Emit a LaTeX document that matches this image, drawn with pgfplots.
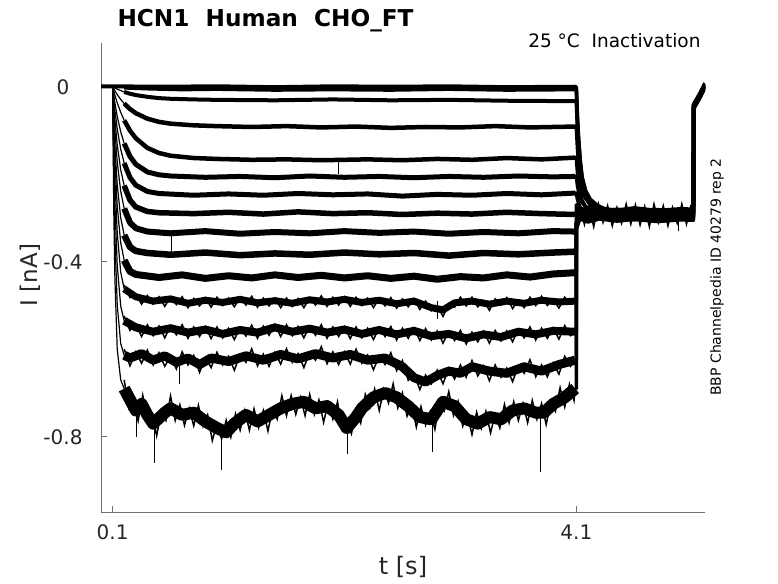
\documentclass[border=0pt]{standalone}
\usepackage{pgfplots}
\pgfplotsset{compat=1.18}
\usepackage{fontspec}
\setmainfont{DejaVu Sans}
\definecolor{axgray}{HTML}{707070}
\definecolor{txt}{HTML}{262626}
\pgfplotsset{
  dec/.style={black, line width=1.2pt, line join=round},
  pl/.style={black, line width=#1, line join=round, line cap=butt},
  tl/.style={black, line width=3.6pt, line join=round},
  zz/.style={black, line width=1.5pt, line join=miter},
  sp/.style={black, line width=1pt},
}
\begin{document}
\begin{tikzpicture}[x=1pt,y=1pt]
\path[use as bounding box] (0,0) rectangle (778,583);
\begin{axis}[
  at={(101pt,71pt)}, anchor=south west, scale only axis,
  width=604pt, height=469pt,
  xmin=0, xmax=5.21, ymin=-0.972, ymax=0.1,
  axis x line*=bottom, axis y line*=left,
  axis line style={axgray, line width=0.8pt},
  xtick={0.1,4.1}, xticklabels={0.1,4.1},
  ytick={-0.8,-0.4,0}, yticklabels={-0.8,-0.4,0},
  tick align=inside, major tick length=6pt,
  tick style={axgray, line width=0.8pt},
  ticklabel style={font=\fontsize{20}{24}\selectfont, text=txt},
  yticklabel style={anchor=center, xshift=-38pt},
  xticklabel style={yshift=-9pt},
  /pgf/number format/assume math mode=true,
]
% ---------- T1 (0)
\addplot[pl=4pt] coordinates {(0,0.001) (0.1,0.001) (0.5,0) (1,0.001) (1.5,-0.001) (2,0.001) (2.5,0) (3,0.001) (3.5,-0.001) (4.09,0)};
\addplot[tl] coordinates {(4.09,0) (4.1,0) (4.11,-0.0725) (4.12,-0.1218) (4.135,-0.174) (4.15,-0.2088) (4.18,-0.2407) (4.22,-0.261) (4.28,-0.2755) (4.35,-0.2842) (4.45,-0.29) (4.6,-0.287) (4.8,-0.292) (5.0,-0.288) (5.11,-0.29) (5.112,-0.045) (5.16,-0.022) (5.21,0.004)};
% ---------- T2
\addplot[dec] coordinates {(0.1,0) (0.2,-0.002)};
\addplot[pl=4pt] coordinates {(0.2,-0.002) (0.4,-0.004) (0.7,-0.006) (1,-0.005) (1.5,-0.007) (2,-0.006) (2.5,-0.007) (3,-0.005) (3.5,-0.007) (4.09,-0.006)};
\addplot[tl] coordinates {(4.09,-0.006) (4.1,-0.006) (4.11,-0.0758) (4.12,-0.1232) (4.135,-0.1734) (4.15,-0.2069) (4.18,-0.2376) (4.22,-0.2571) (4.28,-0.2711) (4.35,-0.2794) (4.45,-0.285) (4.6,-0.281) (4.8,-0.286) (5.0,-0.283) (5.11,-0.285) (5.112,-0.04) (5.16,-0.018) (5.21,0.008)};
% ---------- T3
\addplot[dec] coordinates {(0.1,0) (0.11,-0.0015) (0.12,-0.0029) (0.14,-0.0054) (0.17,-0.0088) (0.2,-0.0118)};
\addplot[pl=4pt] coordinates {(0.2,-0.0118) (0.25,-0.016) (0.3,-0.019) (0.4,-0.023) (0.5,-0.026) (0.6,-0.0275) (0.8,-0.029) (1.0,-0.03) (1.5,-0.031) (2,-0.029) (2.5,-0.031) (3,-0.03) (3.5,-0.032) (4.09,-0.033)};
\addplot[tl] coordinates {(4.09,-0.033) (4.1,-0.033) (4.11,-0.0985) (4.12,-0.143) (4.135,-0.1902) (4.15,-0.2216) (4.18,-0.2505) (4.22,-0.2688) (4.28,-0.2819) (4.35,-0.2898) (4.45,-0.295) (4.6,-0.298) (4.8,-0.293) (5.0,-0.297) (5.11,-0.295) (5.112,-0.05) (5.16,-0.027) (5.21,0.0)};
% ---------- T4
\addplot[dec] coordinates {(0.1,0) (0.11,-0.0049) (0.12,-0.0095) (0.14,-0.0179) (0.17,-0.029) (0.2,-0.0383)};
\addplot[pl=4.5pt] coordinates {(0.2,-0.0383) (0.25,-0.0509) (0.3,-0.0604) (0.4,-0.073) (0.5,-0.0803) (0.6,-0.0844) (0.8,-0.0882) (1.0,-0.09) (1.3,-0.092) (1.6,-0.09) (1.9,-0.093) (2.2,-0.091) (2.5,-0.094) (2.8,-0.092) (3.1,-0.093) (3.4,-0.09) (3.7,-0.093) (4.09,-0.091)};
\addplot[tl] coordinates {(4.09,-0.091) (4.1,-0.091) (4.11,-0.1408) (4.12,-0.1746) (4.135,-0.2104) (4.15,-0.2343) (4.18,-0.2552) (4.22,-0.2701) (4.28,-0.28) (4.35,-0.286) (4.45,-0.29) (4.6,-0.293) (4.8,-0.288) (5.0,-0.291) (5.11,-0.289) (5.112,-0.043) (5.16,-0.024) (5.21,0.002)};
% ---------- T5
\addplot[dec] coordinates {(0.1,0) (0.11,-0.01) (0.12,-0.0195) (0.14,-0.0365) (0.17,-0.0584) (0.2,-0.0767)};
\addplot[pl=4.5pt] coordinates {(0.2,-0.0767) (0.25,-0.1003) (0.3,-0.1176) (0.4,-0.1398) (0.5,-0.1515) (0.6,-0.1577) (0.8,-0.1629) (1.0,-0.165) (1.3,-0.167) (1.6,-0.166) (1.9,-0.168) (2.3,-0.166) (2.6,-0.168) (2.9,-0.165) (3.2,-0.167) (3.5,-0.163) (3.8,-0.166) (4.09,-0.162)};
\addplot[tl] coordinates {(4.09,-0.162) (4.1,-0.162) (4.11,-0.196) (4.12,-0.2191) (4.135,-0.2436) (4.15,-0.2599) (4.18,-0.2749) (4.22,-0.2844) (4.28,-0.2912) (4.35,-0.2953) (4.45,-0.298) (4.6,-0.301) (4.8,-0.296) (5.0,-0.3) (5.11,-0.297) (5.112,-0.048) (5.16,-0.025) (5.21,0.003)};
% ---------- T6
\addplot[dec] coordinates {(0.1,0) (0.11,-0.0195) (0.12,-0.0371) (0.14,-0.0677) (0.17,-0.1031) (0.2,-0.1296)};
\addplot[pl=5pt] coordinates {(0.2,-0.1296) (0.25,-0.1593) (0.3,-0.1773) (0.4,-0.1948) (0.5,-0.2013) (0.6,-0.204) (0.9,-0.207) (1.2,-0.205) (1.5,-0.208) (1.8,-0.204) (2.1,-0.207) (2.4,-0.205) (2.7,-0.208) (3.0,-0.205) (3.3,-0.207) (3.6,-0.204) (3.9,-0.206) (4.09,-0.205)};
\addplot[tl] coordinates {(4.09,-0.205) (4.1,-0.205) (4.11,-0.2258) (4.12,-0.2399) (4.135,-0.2548) (4.15,-0.2648) (4.18,-0.2739) (4.22,-0.2797) (4.28,-0.2839) (4.35,-0.2863) (4.45,-0.288) (4.6,-0.284) (4.8,-0.289) (5.0,-0.285) (5.11,-0.287) (5.112,-0.042) (5.16,-0.02) (5.21,0.006)};
% ---------- T7
\addplot[dec] coordinates {(0.1,0) (0.11,-0.0289) (0.12,-0.0541) (0.14,-0.0963) (0.17,-0.1428) (0.2,-0.1747)};
\addplot[pl=5pt] coordinates {(0.2,-0.1747) (0.25,-0.2075) (0.3,-0.2249) (0.4,-0.2394) (0.5,-0.244) (0.8,-0.248) (1.1,-0.245) (1.4,-0.248) (1.7,-0.244) (2.0,-0.247) (2.3,-0.245) (2.6,-0.25) (2.9,-0.246) (3.2,-0.248) (3.5,-0.244) (3.8,-0.247) (4.09,-0.243)};
\addplot[tl] coordinates {(4.09,-0.243) (4.1,-0.243) (4.11,-0.2573) (4.12,-0.2669) (4.135,-0.2772) (4.15,-0.284) (4.18,-0.2903) (4.22,-0.2943) (4.28,-0.2972) (4.35,-0.2989) (4.45,-0.3) (4.6,-0.304) (4.8,-0.299) (5.0,-0.303) (5.11,-0.3) (5.112,-0.046) (5.16,-0.023) (5.21,0.001)};
% ---------- T8
\addplot[dec] coordinates {(0.1,0) (0.11,-0.0412) (0.12,-0.0763) (0.14,-0.1325) (0.17,-0.1898) (0.2,-0.2261)};
\addplot[pl=5.5pt] coordinates {(0.2,-0.2261) (0.25,-0.2592) (0.3,-0.2748) (0.4,-0.2851) (0.5,-0.288) (0.8,-0.29) (1.1,-0.287) (1.4,-0.291) (1.7,-0.286) (2.0,-0.29) (2.3,-0.288) (2.6,-0.292) (2.9,-0.289) (3.2,-0.291) (3.5,-0.287) (3.8,-0.29) (4.09,-0.292)};
\addplot[tl] coordinates {(4.09,-0.292) (4.1,-0.292) (4.101,-0.27) (4.13,-0.285) (4.2,-0.279) (4.3,-0.286) (4.45,-0.28) (4.6,-0.285) (4.8,-0.281) (5.0,-0.284) (5.11,-0.283) (5.112,-0.044) (5.16,-0.021) (5.21,0.005)};
% ---------- T9
\addplot[dec] coordinates {(0.1,0) (0.11,-0.0551) (0.12,-0.1013) (0.14,-0.1716) (0.17,-0.239) (0.2,-0.2782)};
\addplot[pl=6pt] coordinates {(0.2,-0.2782) (0.25,-0.3104) (0.3,-0.3234) (0.4,-0.331) (0.6,-0.335) (0.9,-0.33) (1.2,-0.336) (1.5,-0.332) (1.8,-0.335) (2.1,-0.33) (2.4,-0.334) (2.7,-0.331) (3.0,-0.336) (3.3,-0.332) (3.6,-0.335) (3.9,-0.33) (4.09,-0.331)};
\addplot[tl] coordinates {(4.09,-0.331) (4.1,-0.331) (4.101,-0.315) (4.13,-0.3) (4.2,-0.306) (4.3,-0.299) (4.45,-0.304) (4.6,-0.3) (4.8,-0.305) (5.0,-0.301) (5.11,-0.302) (5.112,-0.047) (5.16,-0.026) (5.21,0.0)};
% ---------- T10
\addplot[dec] coordinates {(0.1,0) (0.11,-0.0756) (0.12,-0.1364) (0.14,-0.2238) (0.17,-0.2998) (0.2,-0.339)};
\addplot[pl=6.5pt] coordinates {(0.2,-0.339) (0.25,-0.3663) (0.3,-0.3754) (0.4,-0.38) (0.6,-0.384) (0.9,-0.379) (1.2,-0.385) (1.5,-0.381) (1.8,-0.384) (2.1,-0.379) (2.4,-0.383) (2.7,-0.38) (3.0,-0.386) (3.3,-0.38) (3.6,-0.383) (3.9,-0.379) (4.09,-0.377)};
\addplot[tl] coordinates {(4.09,-0.377) (4.1,-0.377) (4.101,-0.31) (4.13,-0.29) (4.2,-0.296) (4.3,-0.289) (4.45,-0.294) (4.6,-0.29) (4.8,-0.295) (5.0,-0.29) (5.11,-0.292) (5.112,-0.045) (5.16,-0.022) (5.21,0.003)};
% ---------- T11
\addplot[dec] coordinates {(0.1,0) (0.11,-0.0955) (0.12,-0.1698) (0.14,-0.273) (0.17,-0.3568) (0.2,-0.3966)};
\addplot[pl=7pt] coordinates {(0.2,-0.3966) (0.25,-0.4221) (0.3,-0.429) (0.5,-0.436) (0.7,-0.43) (0.9,-0.438) (1.1,-0.432) (1.3,-0.437) (1.5,-0.43) (1.7,-0.436) (1.9,-0.431) (2.1,-0.437) (2.3,-0.432) (2.5,-0.438) (2.7,-0.433) (2.9,-0.44) (3.1,-0.434) (3.3,-0.437) (3.5,-0.43) (3.7,-0.435) (3.9,-0.428) (4.09,-0.425)};
\addplot[tl] coordinates {(4.09,-0.425) (4.1,-0.425) (4.101,-0.3) (4.13,-0.284) (4.2,-0.29) (4.3,-0.285) (4.45,-0.289) (4.6,-0.284) (4.8,-0.29) (5.0,-0.286) (5.11,-0.287) (5.112,-0.041) (5.16,-0.02) (5.21,0.006)};
% ---------- T12
\addplot[dec] coordinates {(0.1,0) (0.11,-0.122) (0.12,-0.2132) (0.14,-0.3337) (0.17,-0.4239) (0.2,-0.4621)};
\addplot[pl=7pt] coordinates {(0.2,-0.4621) (0.3,-0.48) (0.45,-0.49) (0.6,-0.485) (0.75,-0.495) (0.9,-0.488) (1.05,-0.493) (1.2,-0.486) (1.35,-0.494) (1.5,-0.489) (1.65,-0.495) (1.8,-0.487) (1.95,-0.492) (2.1,-0.486) (2.25,-0.493) (2.4,-0.488) (2.55,-0.496) (2.7,-0.49) (2.85,-0.505) (2.95,-0.51) (3.05,-0.494) (3.2,-0.49) (3.35,-0.497) (3.5,-0.49) (3.65,-0.495) (3.8,-0.488) (3.95,-0.492) (4.09,-0.49)};
\addplot[zz] coordinates {(0.2,-0.453) (0.25,-0.482) (0.3,-0.474) (0.35,-0.497) (0.4,-0.477) (0.45,-0.497) (0.5,-0.48) (0.55,-0.502) (0.6,-0.48) (0.65,-0.498) (0.7,-0.48) (0.75,-0.505) (0.8,-0.484) (0.85,-0.501) (0.9,-0.482) (0.95,-0.504) (1.0,-0.481) (1.05,-0.5) (1.1,-0.483) (1.15,-0.503) (1.2,-0.481) (1.25,-0.499) (1.3,-0.479) (1.35,-0.504) (1.4,-0.483) (1.45,-0.501) (1.5,-0.483) (1.55,-0.505) (1.6,-0.483) (1.65,-0.502) (1.7,-0.484) (1.75,-0.505) (1.8,-0.482) (1.85,-0.499) (1.9,-0.478) (1.95,-0.502) (2.0,-0.481) (2.05,-0.499) (2.1,-0.48) (2.15,-0.502) (2.2,-0.481) (2.25,-0.5) (2.3,-0.483) (2.35,-0.505) (2.4,-0.483) (2.45,-0.501) (2.5,-0.482) (2.55,-0.506) (2.6,-0.485) (2.65,-0.503) (2.7,-0.484) (2.75,-0.509) (2.8,-0.49) (2.85,-0.512) (2.9,-0.5) (2.95,-0.525) (3.0,-0.497) (3.05,-0.504) (3.1,-0.481) (3.15,-0.501) (3.2,-0.481) (3.25,-0.503) (3.3,-0.489) (3.35,-0.511) (3.4,-0.485) (3.45,-0.499) (3.5,-0.482) (3.55,-0.507) (3.6,-0.488) (3.65,-0.505) (3.7,-0.481) (3.75,-0.5) (3.8,-0.479) (3.85,-0.5) (3.9,-0.485) (3.95,-0.506) (4.0,-0.481) (4.05,-0.497) (4.09,-0.49)};
\addplot[tl] coordinates {(4.09,-0.49) (4.1,-0.49) (4.101,-0.315) (4.13,-0.293) (4.2,-0.3) (4.3,-0.294) (4.45,-0.299) (4.6,-0.295) (4.8,-0.3) (5.0,-0.296) (5.11,-0.297) (5.112,-0.049) (5.16,-0.026) (5.21,0.002)};
% ---------- T13
\addplot[dec] coordinates {(0.1,0) (0.11,-0.1571) (0.12,-0.2703) (0.14,-0.4085) (0.17,-0.5012) (0.2,-0.535)};
\addplot[pl=8pt] coordinates {(0.2,-0.535) (0.3,-0.55) (0.45,-0.56) (0.6,-0.552) (0.75,-0.562) (0.9,-0.555) (1.05,-0.565) (1.2,-0.556) (1.35,-0.562) (1.5,-0.55) (1.65,-0.56) (1.8,-0.553) (1.95,-0.562) (2.1,-0.555) (2.25,-0.565) (2.4,-0.556) (2.55,-0.566) (2.7,-0.558) (2.85,-0.57) (3.0,-0.565) (3.15,-0.575) (3.3,-0.566) (3.45,-0.572) (3.6,-0.56) (3.75,-0.566) (3.9,-0.558) (4.09,-0.56)};
\addplot[zz] coordinates {(0.2,-0.524) (0.25,-0.557) (0.3,-0.543) (0.35,-0.571) (0.4,-0.544) (0.45,-0.569) (0.5,-0.547) (0.55,-0.574) (0.6,-0.546) (0.65,-0.567) (0.7,-0.544) (0.75,-0.575) (0.8,-0.549) (0.85,-0.571) (0.9,-0.548) (0.95,-0.576) (1.0,-0.549) (1.05,-0.574) (1.1,-0.552) (1.15,-0.578) (1.2,-0.55) (1.25,-0.57) (1.3,-0.545) (1.35,-0.575) (1.4,-0.547) (1.45,-0.568) (1.5,-0.543) (1.55,-0.571) (1.6,-0.544) (1.65,-0.569) (1.7,-0.548) (1.75,-0.574) (1.8,-0.547) (1.85,-0.568) (1.9,-0.544) (1.95,-0.575) (2.0,-0.549) (2.05,-0.571) (2.1,-0.548) (2.15,-0.576) (2.2,-0.549) (2.25,-0.574) (2.3,-0.552) (2.35,-0.578) (2.4,-0.55) (2.45,-0.571) (2.5,-0.548) (2.55,-0.579) (2.6,-0.552) (2.65,-0.575) (2.7,-0.551) (2.75,-0.58) (2.8,-0.553) (2.85,-0.579) (2.9,-0.558) (2.95,-0.586) (3.0,-0.559) (3.05,-0.58) (3.1,-0.557) (3.15,-0.588) (3.2,-0.561) (3.25,-0.583) (3.3,-0.559) (3.35,-0.586) (3.4,-0.557) (3.45,-0.581) (3.5,-0.558) (3.55,-0.583) (3.6,-0.554) (3.65,-0.574) (3.7,-0.549) (3.75,-0.579) (3.8,-0.552) (3.85,-0.575) (3.9,-0.551) (3.95,-0.577) (4.0,-0.546) (4.05,-0.569) (4.09,-0.56)};
\addplot[tl] coordinates {(4.09,-0.56) (4.1,-0.56) (4.101,-0.32) (4.13,-0.29) (4.2,-0.297) (4.3,-0.29) (4.45,-0.295) (4.6,-0.291) (4.8,-0.296) (5.0,-0.292) (5.11,-0.293) (5.112,-0.044) (5.16,-0.023) (5.21,0.004)};
% ---------- T14
\addplot[dec] coordinates {(0.1,0) (0.11,-0.2063) (0.12,-0.3444) (0.14,-0.4988) (0.17,-0.5869) (0.2,-0.6138)};
\addplot[pl=9pt] coordinates {(0.2,-0.6138) (0.25,-0.62) (0.35,-0.61) (0.45,-0.625) (0.55,-0.615) (0.65,-0.63) (0.75,-0.62) (0.85,-0.635) (0.95,-0.62) (1.1,-0.628) (1.25,-0.615) (1.4,-0.625) (1.55,-0.612) (1.7,-0.622) (1.85,-0.61) (2.0,-0.62) (2.15,-0.612) (2.3,-0.625) (2.45,-0.62) (2.6,-0.64) (2.7,-0.665) (2.8,-0.675) (2.9,-0.66) (3.0,-0.65) (3.1,-0.655) (3.2,-0.64) (3.35,-0.65) (3.5,-0.655) (3.65,-0.64) (3.8,-0.65) (3.95,-0.635) (4.09,-0.625)};
\addplot[zz] coordinates {(0.2,-0.6) (0.25,-0.638) (0.3,-0.606) (0.35,-0.632) (0.4,-0.602) (0.45,-0.636) (0.5,-0.608) (0.55,-0.639) (0.6,-0.616) (0.65,-0.645) (0.7,-0.606) (0.75,-0.636) (0.8,-0.614) (0.85,-0.653) (0.9,-0.619) (0.95,-0.642) (1.0,-0.607) (1.05,-0.636) (1.1,-0.616) (1.15,-0.648) (1.2,-0.612) (1.25,-0.63) (1.3,-0.599) (1.35,-0.638) (1.4,-0.611) (1.45,-0.639) (1.5,-0.607) (1.55,-0.634) (1.6,-0.599) (1.65,-0.63) (1.7,-0.61) (1.75,-0.642) (1.8,-0.607) (1.85,-0.625) (1.9,-0.594) (1.95,-0.633) (2.0,-0.606) (2.05,-0.635) (2.1,-0.606) (2.15,-0.634) (2.2,-0.6) (2.25,-0.632) (2.3,-0.613) (2.35,-0.647) (2.4,-0.615) (2.45,-0.635) (2.5,-0.608) (2.55,-0.649) (2.6,-0.626) (2.65,-0.671) (2.7,-0.656) (2.75,-0.692) (2.8,-0.659) (2.85,-0.679) (2.9,-0.648) (2.95,-0.679) (3.0,-0.643) (3.05,-0.668) (3.1,-0.636) (3.15,-0.664) (3.2,-0.626) (3.25,-0.661) (3.3,-0.638) (3.35,-0.672) (3.4,-0.636) (3.45,-0.664) (3.5,-0.643) (3.55,-0.674) (3.6,-0.638) (3.65,-0.655) (3.7,-0.624) (3.75,-0.663) (3.8,-0.636) (3.85,-0.663) (3.9,-0.631) (3.95,-0.657) (4.0,-0.616) (4.05,-0.639) (4.09,-0.625)};
\addplot[tl] coordinates {(4.09,-0.625) (4.1,-0.625) (4.101,-0.325) (4.13,-0.302) (4.2,-0.309) (4.3,-0.302) (4.45,-0.307) (4.6,-0.303) (4.8,-0.308) (5.0,-0.304) (5.11,-0.305) (5.112,-0.05) (5.16,-0.028) (5.21,-0.002)};
% ---------- T15
\addplot[dec] coordinates {(0.1,0) (0.11,-0.28) (0.12,-0.44) (0.14,-0.6) (0.17,-0.67) (0.2,-0.69)};
\addplot[pl=12pt] coordinates {(0.2,-0.69) (0.25,-0.715) (0.3,-0.74) (0.35,-0.725) (0.4,-0.75) (0.45,-0.77) (0.55,-0.745) (0.6,-0.735) (0.7,-0.75) (0.8,-0.745) (0.9,-0.765) (1.0,-0.78) (1.08,-0.79) (1.15,-0.77) (1.25,-0.75) (1.35,-0.765) (1.45,-0.75) (1.55,-0.735) (1.65,-0.725) (1.75,-0.72) (1.85,-0.735) (1.95,-0.73) (2.05,-0.75) (2.12,-0.78) (2.2,-0.755) (2.25,-0.735) (2.35,-0.71) (2.45,-0.7) (2.55,-0.71) (2.65,-0.73) (2.75,-0.755) (2.85,-0.76) (2.95,-0.72) (3.05,-0.73) (3.15,-0.76) (3.25,-0.77) (3.35,-0.755) (3.45,-0.76) (3.55,-0.74) (3.65,-0.735) (3.75,-0.745) (3.82,-0.745) (3.9,-0.725) (4.0,-0.71) (4.09,-0.69)};
\addplot[zz] coordinates {(0.2,-0.67) (0.24,-0.735) (0.28,-0.718) (0.32,-0.764) (0.36,-0.705) (0.4,-0.765) (0.44,-0.748) (0.48,-0.798) (0.52,-0.742) (0.56,-0.763) (0.6,-0.707) (0.64,-0.763) (0.68,-0.727) (0.72,-0.774) (0.76,-0.735) (0.8,-0.775) (0.84,-0.728) (0.88,-0.776) (0.92,-0.75) (0.96,-0.809) (1.0,-0.77) (1.04,-0.805) (1.08,-0.762) (1.12,-0.801) (1.16,-0.748) (1.2,-0.785) (1.24,-0.74) (1.28,-0.785) (1.32,-0.736) (1.36,-0.779) (1.4,-0.74) (1.44,-0.787) (1.48,-0.736) (1.52,-0.76) (1.56,-0.706) (1.6,-0.752) (1.64,-0.706) (1.68,-0.749) (1.72,-0.71) (1.76,-0.752) (1.8,-0.703) (1.84,-0.749) (1.88,-0.716) (1.92,-0.767) (1.96,-0.722) (2.0,-0.76) (2.04,-0.72) (2.08,-0.785) (2.12,-0.76) (2.16,-0.793) (2.2,-0.743) (2.24,-0.769) (2.28,-0.703) (2.32,-0.733) (2.36,-0.691) (2.4,-0.74) (2.44,-0.691) (2.48,-0.723) (2.52,-0.679) (2.56,-0.734) (2.6,-0.7) (2.64,-0.753) (2.68,-0.726) (2.72,-0.778) (2.76,-0.731) (2.8,-0.773) (2.84,-0.742) (2.88,-0.783) (2.92,-0.722) (2.96,-0.741) (3.0,-0.697) (3.04,-0.751) (3.08,-0.719) (3.12,-0.776) (3.16,-0.749) (3.2,-0.795) (3.24,-0.744) (3.28,-0.781) (3.32,-0.742) (3.36,-0.791) (3.4,-0.748) (3.44,-0.78) (3.48,-0.726) (3.52,-0.768) (3.56,-0.72) (3.6,-0.763) (3.64,-0.724) (3.68,-0.768) (3.72,-0.717) (3.76,-0.76) (3.8,-0.724) (3.84,-0.772) (3.88,-0.72) (3.92,-0.742) (3.96,-0.688) (4.0,-0.732) (4.04,-0.68) (4.08,-0.717) (4.09,-0.69)};
\addplot[tl] coordinates {(4.09,-0.69) (4.1,-0.69) (4.101,-0.31) (4.13,-0.277) (4.2,-0.284) (4.3,-0.278) (4.45,-0.282) (4.6,-0.277) (4.8,-0.283) (5.0,-0.279) (5.11,-0.28) (5.112,-0.04) (5.16,-0.019) (5.21,0.007)};
% ---------- tail noise
\addplot[zz] coordinates {(4.13,-0.27) (4.17,-0.315) (4.21,-0.274) (4.25,-0.32) (4.29,-0.268) (4.33,-0.31) (4.37,-0.272) (4.41,-0.318) (4.45,-0.276) (4.49,-0.312) (4.53,-0.268) (4.57,-0.314) (4.61,-0.27) (4.65,-0.316) (4.69,-0.274) (4.73,-0.32) (4.77,-0.268) (4.81,-0.31) (4.85,-0.272) (4.89,-0.318) (4.93,-0.276) (4.97,-0.312) (5.01,-0.268) (5.05,-0.314) (5.09,-0.27)};
% ---------- spikes
\addplot[sp] coordinates {(0.46,-0.76) (0.46,-0.86)};
\addplot[sp] coordinates {(1.04,-0.78) (1.04,-0.875)};
\addplot[sp] coordinates {(2.13,-0.77) (2.13,-0.84)};
\addplot[sp] coordinates {(2.86,-0.75) (2.86,-0.835)};
\addplot[sp] coordinates {(3.79,-0.74) (3.79,-0.88)};
\addplot[sp] coordinates {(0.31,-0.74) (0.31,-0.8)};
\addplot[sp] coordinates {(0.68,-0.62) (0.68,-0.68)};
\addplot[sp] coordinates {(2.9,-0.49) (2.9,-0.53)};
\addplot[sp] coordinates {(2.05,-0.166) (2.05,-0.2)};
\addplot[sp] coordinates {(0.61,-0.333) (0.61,-0.38)};
\addplot[sp] coordinates {(4.98,-0.29) (4.98,-0.33)};
\end{axis}
\node[anchor=base west, font=\fontsize{23.2}{28}\selectfont\bfseries, text=black] at (114,556) {HCN1~~Human~~CHO\_FT};
\node[anchor=base east, font=\fontsize{18.5}{22}\selectfont, text=black] at (704,535) {25~°C~~Inactivation};
\node[rotate=90, font=\fontsize{14}{17}\selectfont, text=black] at (717,306) {BBP Channelpedia ID 40279 rep 2};
\node[font=\fontsize{24}{29}\selectfont, text=txt] at (403,16) {t [s]};
\node[rotate=90, font=\fontsize{23}{28}\selectfont, text=txt] at (30,308) {I [nA]};
\end{tikzpicture}
\end{document}
